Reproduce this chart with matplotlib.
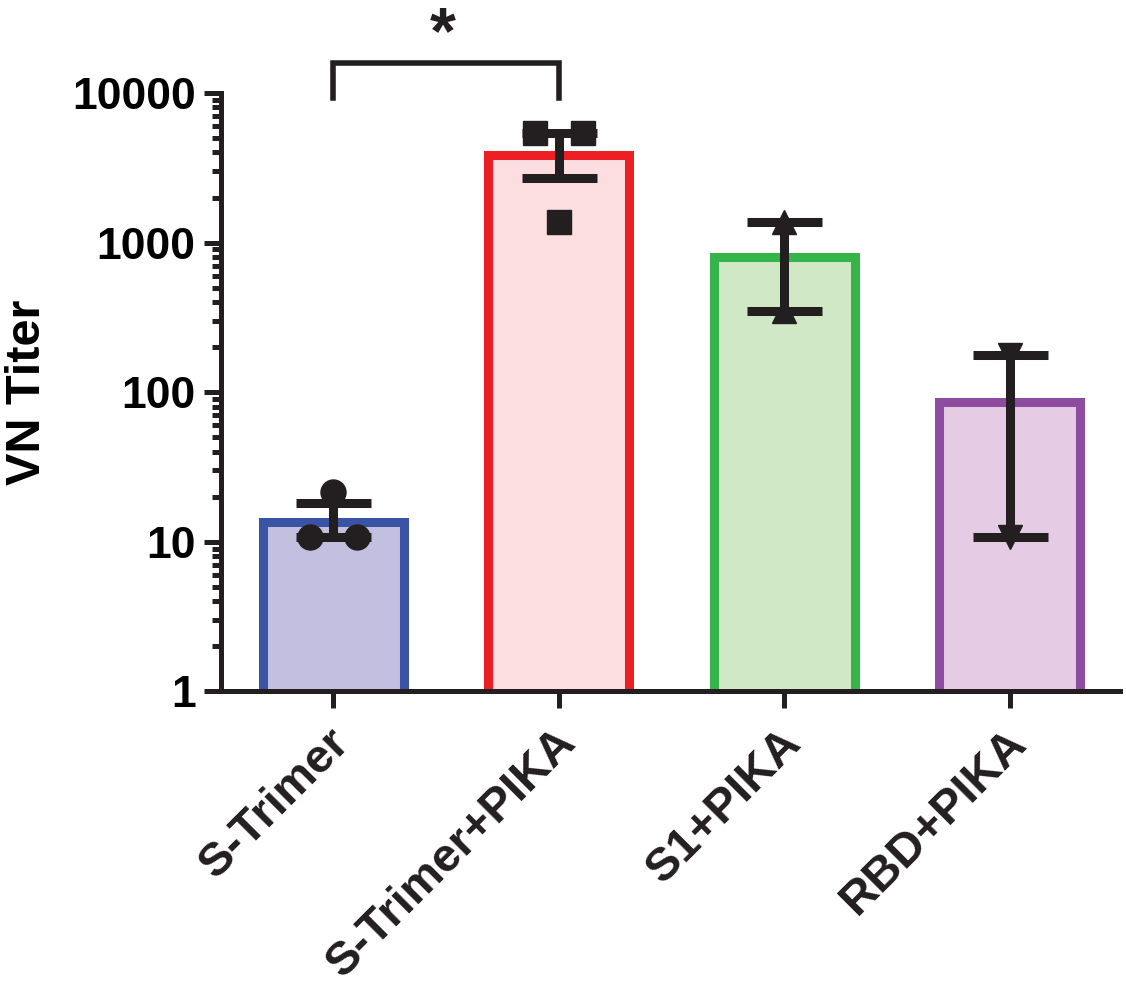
import matplotlib
matplotlib.use("Agg")
import matplotlib.pyplot as plt
import matplotlib.transforms as mtransforms
from matplotlib.ticker import FixedLocator, FixedFormatter, LogLocator, NullFormatter
import numpy as np

plt.rcParams['font.family'] = ['Liberation Sans', 'DejaVu Sans']
plt.rcParams['font.weight'] = 'bold'

# values
groups = ["S-Trimer", "S-Trimer+PIKA", "S1+PIKA", "RBD+PIKA"]
bar_heights = [13.6, 3830, 800, 86]
err_low = [10.8, 2720, 347, 10.8]
err_high = [18.2, 5410, 1380, 176]

# individual animals: (group index, x offset, value)
pts_circle = [(0, 0.0, 21.5), (0, -0.106, 10.8), (0, 0.106, 10.8)]
pts_square = [(1, -0.107, 5410), (1, 0.107, 5410), (1, 0.0, 1373)]
pts_tri_up = [(2, 0.0, 1380), (2, 0.0, 347)]
pts_tri_down = [(3, 0.0, 176), (3, 0.0, 10.8)]

edge_colors = ["#3A53A4", "#EE1E25", "#34B449", "#8E4C9E"]
fill_colors = ["#C3BFE0", "#FDDEE0", "#D1E8C6", "#E5CCE4"]
ink = "#231F20"

fig = plt.figure(figsize=(11.26, 9.89), dpi=100)
ax = fig.add_axes([0.196, 0.301, 0.799, 0.605])

x = np.arange(len(groups))
ax.bar(x, bar_heights, width=0.625, color=fill_colors, edgecolor=edge_colors,
       linewidth=6.5, zorder=2)

yerr = [np.array(bar_heights) - np.array(err_low), np.array(err_high) - np.array(bar_heights)]
ax.errorbar(x, bar_heights, yerr=yerr, fmt='none', ecolor=ink, elinewidth=6.5,
            capsize=27, capthick=6.5, zorder=4)

for pts, mk, ms in [(pts_circle, 'o', 18), (pts_square, 's', 17),
                    (pts_tri_up, '^', 17), (pts_tri_down, 'v', 17)]:
    px = [x[g] + off for g, off, v in pts]
    py = [v for g, off, v in pts]
    ax.plot(px, py, linestyle='none', marker=mk, markersize=ms, color=ink, zorder=3)

ax.set_yscale('log')
ax.set_ylim(1, 10000)
ax.set_xlim(-0.5, 3.49)

ax.yaxis.set_major_locator(FixedLocator([1, 10, 100, 1000, 10000]))
ax.yaxis.set_major_formatter(FixedFormatter(["1", "10", "100", "1000", "10000"]))
ax.yaxis.set_minor_locator(LogLocator(base=10, subs=np.arange(2, 10)))
ax.yaxis.set_minor_formatter(NullFormatter())

ax.set_xticks(x)
ax.set_xticklabels([])
# rotated group names, placed under each tick
lab_tr = ax.get_xaxis_transform() + mtransforms.ScaledTranslation(7 / 72, -32 / 72, fig.dpi_scale_trans)
for xi, name in zip(x, groups):
    ax.text(xi, 0, name, transform=lab_tr, rotation=45, ha='right', va='center',
            rotation_mode='anchor', fontsize=34, fontweight='bold', color=ink)

for s in ['top', 'right']:
    ax.spines[s].set_visible(False)
for s in ['left', 'bottom']:
    ax.spines[s].set_linewidth(3.6)
    ax.spines[s].set_color(ink)

ax.tick_params(axis='both', which='major', length=12, width=3.6, color=ink, pad=6)
ax.tick_params(axis='y', which='major', labelsize=32)
ax.tick_params(axis='y', which='minor', length=6.5, width=3.6, color=ink)
for lab in ax.get_yticklabels():
    lab.set_fontweight('bold')

ax.set_ylabel("VN Titer", fontsize=35, fontweight='bold', labelpad=16)

# significance bracket
ax.plot([0, 0, 1, 1], [9260, 15850, 15850, 9260], color=ink, linewidth=4,
        clip_on=False, solid_joinstyle='miter')
ax.text(0.485, 24000, "*", ha='center', va='center', fontsize=48, fontweight='bold',
        color=ink, clip_on=False)

fig.savefig("out.png", dpi=100)
